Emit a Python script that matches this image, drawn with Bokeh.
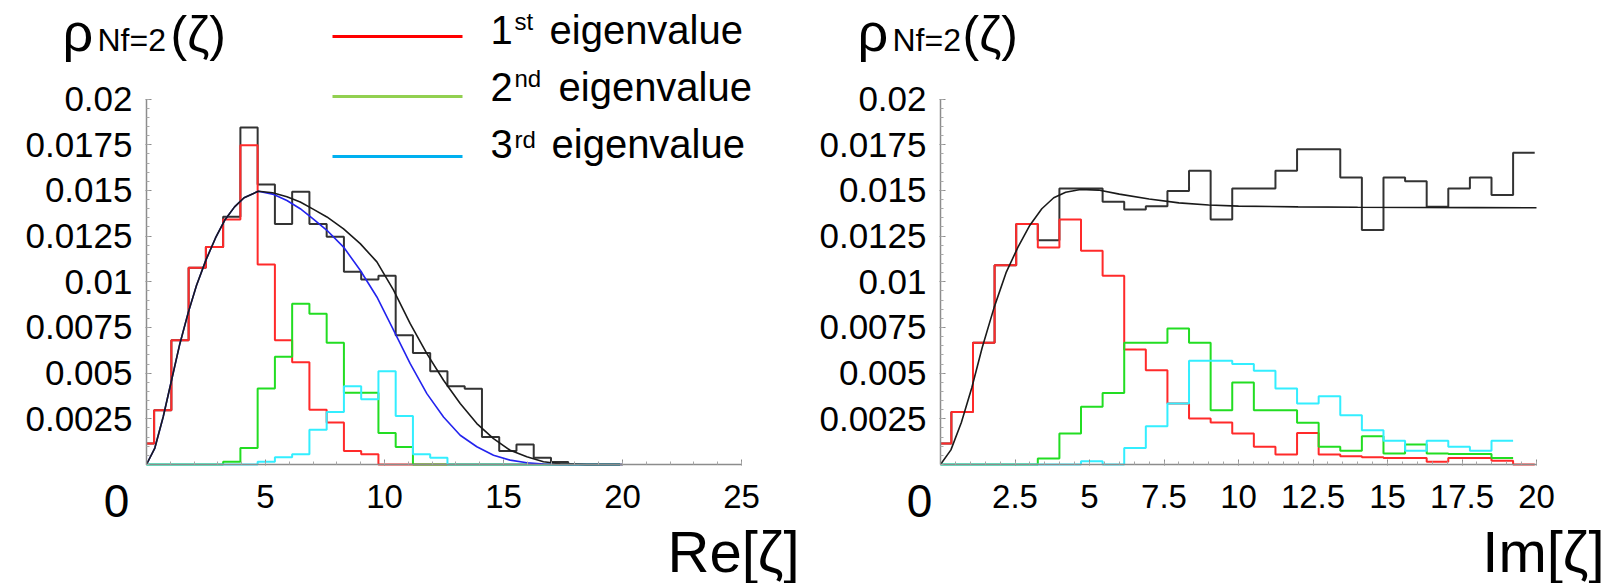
from bokeh.plotting import figure
from bokeh.layouts import row
from bokeh.models import Range1d, FixedTicker, CustomJSTickFormatter, Label
from bokeh.embed import file_html
from bokeh.resources import INLINE

FONT = "Liberation Sans"

# ---------------- data ----------------
bin_width = 0.725
re_bin_start = -0.405
im_bin_start = -0.36

# Re[zeta] histograms (density per bin)
re_red = [0.00115, 0.00297, 0.0068, 0.01077, 0.0119, 0.01341, 0.01748, 0.01095,
          0.0068, 0.0056, 0.0030, 0.0023, 0.00074, 0.00056, 0, 0, 0, 0, 0, 0,
          0, 0, 0, 0, 0, 0, 0, 0]
re_green = [0, 0, 0, 0, 0, 0.00015, 0.0009, 0.00416, 0.0059, 0.0088, 0.00825,
            0.00666, 0.00393, 0.00393, 0.00172, 0.00096, 0, 0, 0, 0, 0, 0, 0,
            0, 0, 0, 0, 0]
re_cyan = [0, 0, 0, 0, 0, 0, 0, 0.00015, 0.0004, 0.00056, 0.0019, 0.00287,
           0.00428, 0.00357, 0.0051, 0.00265, 0.00056, 0.00037, 0, 0, 0, 0, 0,
           0, 0, 0, 0, 0]
re_total = [0.00115, 0.00297, 0.0068, 0.01077, 0.0119, 0.01356, 0.01845,
            0.01533, 0.01316, 0.01493, 0.01316, 0.01246, 0.01055, 0.01013,
            0.01033, 0.00707, 0.0061, 0.0051, 0.00428, 0.00415, 0.0015,
            0.00074, 0.0011, 0.00037, 0.00014, 0, 0, 0]

re_curve_x = [0, 0.35, 0.7, 1.05, 1.4, 1.75, 2.1, 2.5, 2.9, 3.3, 3.7, 4.1, 4.7,
              5.3, 5.9, 6.46, 7.0, 7.58, 8.28, 8.98, 9.68, 10.38, 11.08, 11.78,
              12.48, 13.18, 13.88, 14.58, 15.28, 15.98, 16.68, 17.38, 18.5, 20.0]
re_total_curve = [0, 0.0009, 0.0026, 0.0046, 0.0066, 0.0083, 0.0098, 0.0112,
                  0.0124, 0.0134, 0.0141, 0.0146, 0.01496, 0.01487, 0.01465,
                  0.01437, 0.01398, 0.01355, 0.0129, 0.01209, 0.01109, 0.00954,
                  0.00771, 0.00607, 0.00461, 0.00334, 0.00224, 0.00142,
                  0.00078, 0.00042, 0.00015, 0.00004, 0, 0]
re_blue_curve = [0, 0.0009, 0.0026, 0.0046, 0.0066, 0.0083, 0.0098, 0.0112,
                 0.0124, 0.0134, 0.0141, 0.0146, 0.01496, 0.0148, 0.01445,
                 0.0140, 0.01345, 0.01282, 0.0119, 0.01063, 0.00917, 0.00735,
                 0.00552, 0.00388, 0.0026, 0.0016, 0.00097, 0.00051, 0.00024,
                 0.0001, 0.00002, 0, 0, 0]

# Im[zeta] histograms
im_red = [0.00115, 0.00288, 0.00666, 0.0109, 0.01316, 0.01188, 0.01341, 0.0117,
          0.01033, 0.0063, 0.00516, 0.00334, 0.00252, 0.0023, 0.0017, 0.00097,
          0.00055, 0.00173, 0.00055, 0.00045, 0.0004, 0.00036, 0.00036,
          0.00015, 0.00036, 0.00036, 0.0002, 0]
im_green = [0, 0, 0, 0, 0, 0.00033, 0.0017, 0.00316, 0.00392, 0.00666, 0.00666,
            0.00745, 0.00666, 0.00297, 0.00449, 0.00297, 0.00297, 0.00228,
            0.00097, 0.00075, 0.00155, 0.0006, 0.0011, 0.0006, 0.00057,
            0.00057, 0.00036]
im_cyan = [0, 0, 0, 0, 0, 0, 0, 0.00018, 0, 0.0009, 0.0021, 0.00334, 0.00568,
           0.00568, 0.0055, 0.00513, 0.00416, 0.00334, 0.00374, 0.0027,
           0.00188, 0.0013, 0.00075, 0.0013, 0.00097, 0.00075, 0.0013]
im_total = [0.00115, 0.00288, 0.00666, 0.0109, 0.01316, 0.01228, 0.01511,
            0.01511, 0.01438, 0.01396, 0.01414, 0.01497, 0.01608, 0.01341,
            0.01511, 0.01511, 0.01608, 0.01725, 0.01725, 0.01571, 0.01283,
            0.01571, 0.01551, 0.01411, 0.01511, 0.01571, 0.01475, 0.01706]

im_curve_x = [0, 0.35, 0.7, 1.05, 1.4, 1.8, 2.2, 2.6, 3.0, 3.4, 3.8, 4.2, 4.7,
              5.3, 6.0, 7.0, 8.0, 9.0, 10.0, 12.0, 14.0, 16.0, 18.0, 20.0]
im_total_curve = [0, 0.0008, 0.0023, 0.0042, 0.0064, 0.0086, 0.0105, 0.0119,
                  0.0131, 0.0140, 0.0146, 0.0149, 0.01505, 0.01502, 0.0148,
                  0.01453, 0.01432, 0.0142, 0.01414, 0.0141, 0.01408, 0.01407,
                  0.01406, 0.01405]

y_tick_values = [0.0025, 0.005, 0.0075, 0.01, 0.0125, 0.015, 0.0175, 0.02]
re_tick_values = [5, 10, 15, 20, 25]
im_tick_values = [2.5, 5, 7.5, 10, 12.5, 15, 17.5, 20]
legend_names = [("1", "st"), ("2", "nd"), ("3", "rd")]
legend_colors = ["#ff0000", "#92d050", "#00b0f0"]

# ---------------- layout constants ----------------
H = 583
FB = 464                 # canvas y (px) of value 0
PX_PER_Y = 365.4 / 0.02  # px per density unit
Y_TOP = FB / PX_PER_Y
Y_BOTTOM = -(H - FB) / PX_PER_Y
Y_AXIS_END = 0.02

C_RED, C_GREEN, C_CYAN, C_BLACK = "#ff2a2a", "#22dd22", "#33eeff", "#333333"


def edges(start, n):
    return [max(0.0, start + bin_width * i) for i in range(n + 1)]


def make_fig(width, x0px, ppu, xmax, xticks, xminor):
    p = figure(width=width, height=H,
               x_range=Range1d(-x0px / ppu, (width - x0px) / ppu),
               y_range=Range1d(Y_BOTTOM, Y_TOP), output_backend="svg",
               toolbar_location=None, min_border_left=0, min_border_right=0,
               min_border_top=0, min_border_bottom=0, min_border=0, title=None)
    p.outline_line_color = None
    p.xgrid.visible = False
    p.ygrid.visible = False
    p.background_fill_color = "white"
    p.border_fill_color = "white"
    fmt = "return tick.toString();"
    for ax in (p.xaxis[0], p.yaxis[0]):
        ax.fixed_location = 0
        ax.axis_line_color = "#8c8c8c"
        ax.axis_line_width = 1.5
        ax.major_tick_line_color = "#8c8c8c"
        ax.minor_tick_line_color = "#a8a8a8"
        ax.major_tick_in = 5
        ax.major_tick_out = 1
        ax.minor_tick_in = 3
        ax.minor_tick_out = 0
        ax.major_label_text_font = FONT
        ax.major_label_text_color = "black"
        ax.formatter = CustomJSTickFormatter(code=fmt)
    p.xaxis.ticker = FixedTicker(ticks=xticks, minor_ticks=xminor)
    p.yaxis.ticker = FixedTicker(ticks=y_tick_values,
                                 minor_ticks=[i * 0.0005 for i in range(41)])
    p.xaxis.bounds = (0, xmax)
    p.yaxis.bounds = (0, Y_AXIS_END)
    p.yaxis.major_label_text_font_size = "35px"
    p.yaxis.major_label_standoff = 13
    p.xaxis.major_label_text_font_size = "33px"
    p.xaxis.major_label_standoff = 19
    return p


def hist(p, start, vals, color, close=True):
    x = edges(start, len(vals))
    y = list(vals) + ([0] if close else [vals[-1]])
    p.step(x, y, mode="after", line_color=color, line_width=2)


def py(ypx):
    return (FB - ypx) / PX_PER_Y


def label(p, x, ymid, text, size, align="left"):
    """Text whose vertical centre sits at canvas pixel row ymid."""
    p.add_layout(Label(x=x, y=py(ymid), text=text, text_font=FONT,
                       text_font_size=f"{size}px", text_align=align,
                       text_baseline="middle", text_color="black"))


# ---------------- left panel: Re ----------------
W1, X0_1, PPU1 = 800, 146, 23.8
p1 = make_fig(W1, X0_1, PPU1, 25, re_tick_values, list(range(0, 26)))


def x1(px):
    return (px - X0_1) / PPU1


hist(p1, re_bin_start, re_total, C_BLACK)
hist(p1, re_bin_start, re_red, C_RED)
hist(p1, re_bin_start, re_green, C_GREEN)
hist(p1, re_bin_start, re_cyan, C_CYAN)
p1.line(re_curve_x, re_blue_curve, line_color="#2323ee", line_width=1.6)
p1.line(re_curve_x, re_total_curve, line_color="#1a1a1a", line_width=1.6)

# legend: swatches + texts with superscripts
eig_x = [549, 558, 551]
sup_mid = [21, 78, 139]
for k, ((num, sup), col) in enumerate(zip(legend_names, legend_colors)):
    yline = 36 + 60 * k
    p1.segment(x0=[x1(332)], y0=[py(yline)], x1=[x1(462)], y1=[py(yline)],
               line_color=col, line_width=3)
    mid = 29 + 57 * k
    label(p1, x1(490), mid, num, 40)
    label(p1, x1(514), sup_mid[k], sup, 24)
    label(p1, x1(eig_x[k]), mid, "eigenvalue", 40)

# title and axis texts
label(p1, x1(62), 31, "ρ", 54)
label(p1, x1(97), 39, "Nf=2", 32)
label(p1, x1(170), 33, "(ζ)", 50)
label(p1, x1(116), 500, "0", 46, align="center")
label(p1, x1(799), 551, "Re[ζ]", 58, align="right")

# ---------------- right panel: Im ----------------
W2, X0_2, PPU2 = 807, 140, 29.8
p2 = make_fig(W2, X0_2, PPU2, 20, im_tick_values, [i * 0.5 for i in range(41)])


def x2(px_page):
    return (px_page - W1 - X0_2) / PPU2


hist(p2, im_bin_start, im_total, C_BLACK, close=False)
hist(p2, im_bin_start, im_red, C_RED, close=False)
hist(p2, im_bin_start, im_green, C_GREEN, close=False)
hist(p2, im_bin_start, im_cyan, C_CYAN, close=False)
p2.line(im_curve_x, im_total_curve, line_color="#1a1a1a", line_width=1.6)

label(p2, x2(857), 31, "ρ", 54)
label(p2, x2(892), 39, "Nf=2", 32)
label(p2, x2(962), 33, "(ζ)", 50)
label(p2, x2(919), 500, "0", 46, align="center")
label(p2, x2(1604), 551, "Im[ζ]", 58, align="right")

layout = row(p1, p2)
open("out.html", "w").write(file_html(layout, INLINE))
